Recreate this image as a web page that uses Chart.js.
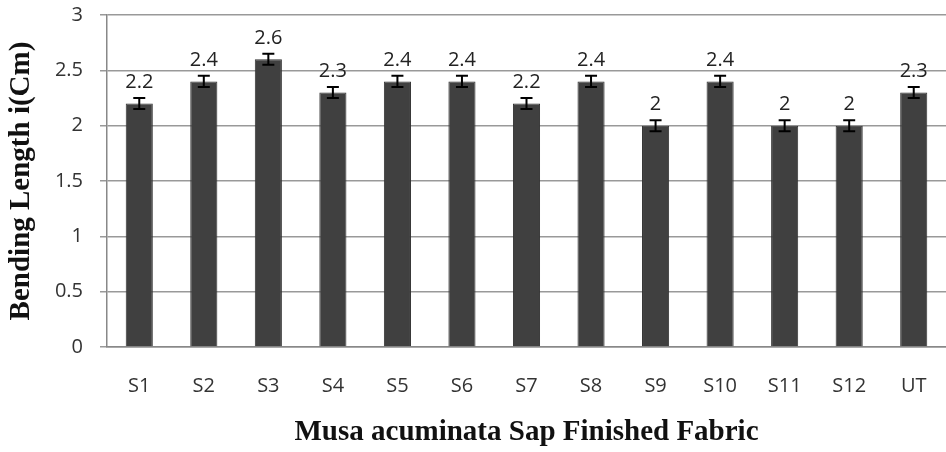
<!DOCTYPE html>
<html>
<head>
<meta charset="utf-8">
<script src="https://cdn.jsdelivr.net/npm/chart.js@4"></script>
<style>
  html, body { margin: 0; padding: 0; background: #fff; }
  #wrap { width: 946px; height: 452px; }
</style>
</head>
<body>
<div id="wrap"><canvas id="chart" width="946" height="452"></canvas></div>
<script>
const labels = ['S1', 'S2', 'S3', 'S4', 'S5', 'S6', 'S7', 'S8', 'S9', 'S10', 'S11', 'S12', 'UT']
const bendingLength = [2.2, 2.4, 2.6, 2.3, 2.4, 2.4, 2.2, 2.4, 2.0, 2.4, 2.0, 2.0, 2.3]
const errors = [0.05, 0.05, 0.05, 0.05, 0.05, 0.05, 0.05, 0.05, 0.05, 0.05, 0.05, 0.05, 0.05]

// error bars + value labels drawn through the scales
const errorBars = {
  id: 'errorBars',
  afterDatasetsDraw(chart) {
    const ctx = chart.ctx
    const y = chart.scales.y
    const meta = chart.getDatasetMeta(0)
    ctx.save()
    meta.data.forEach((bar, i) => {
      const v = bendingLength[i]
      const top = y.getPixelForValue(v + errors[i])
      const bot = y.getPixelForValue(v - errors[i])
      ctx.strokeStyle = '#000'
      ctx.lineWidth = 2
      ctx.beginPath()
      ctx.moveTo(bar.x, top); ctx.lineTo(bar.x, bot)
      ctx.moveTo(bar.x - 6, top); ctx.lineTo(bar.x + 6, top)
      ctx.moveTo(bar.x - 6, bot); ctx.lineTo(bar.x + 6, bot)
      ctx.stroke()
      ctx.fillStyle = '#222'
      ctx.font = '20px "Open Sans"'
      ctx.textAlign = 'center'
      ctx.textBaseline = 'alphabetic'
      ctx.fillText(String(v), bar.x, top - 10)
    })
    ctx.restore()
  }
}

new Chart(document.getElementById('chart'), {
  type: 'bar',
  data: {
    labels: labels,
    datasets: [{
      data: bendingLength,
      backgroundColor: '#404040',
      borderColor: '#333',
      borderWidth: 1,
      barPercentage: 0.42,
      categoryPercentage: 1
    }]
  },
  options: {
    responsive: false,
    animation: false,
    layout: { padding: { top: 15, right: 0, left: 0, bottom: 0 } },
    plugins: { legend: { display: false }, tooltip: { enabled: false } },
    scales: {
      x: {
        grid: { display: false, drawTicks: true, tickLength: 27 },
        border: { color: '#888', width: 1.5 },
        ticks: { color: '#333', font: { family: 'Open Sans', size: 20 }, padding: 0, maxRotation: 0 },
        title: {
          display: true,
          text: 'Musa acuminata Sap Finished Fabric',
          color: '#111',
          font: { family: 'Liberation Serif', size: 29, weight: 'bold' },
          padding: { top: 0, bottom: 2 }
        },
        afterFit(scale) { scale.height = 105 }
      },
      y: {
        min: 0,
        max: 3,
        ticks: {
          stepSize: 0.5,
          color: '#333',
          font: { family: 'Open Sans', size: 20 },
          padding: 17,
          callback: (v) => String(v)
        },
        grid: { color: '#999', lineWidth: 1.5, tickLength: 7 },
        border: { color: '#888', width: 1.5 },
        title: {
          display: true,
          text: 'Bending Length i(Cm)',
          color: '#111',
          font: { family: 'Liberation Serif', size: 29, weight: 'bold' },
          padding: { top: 4, bottom: 0 }
        },
        afterFit(scale) {
          scale.width = 107
          scale.paddingTop = 0
          scale.paddingBottom = 0
        }
      }
    }
  },
  plugins: [errorBars]
})
</script>
</body>
</html>
